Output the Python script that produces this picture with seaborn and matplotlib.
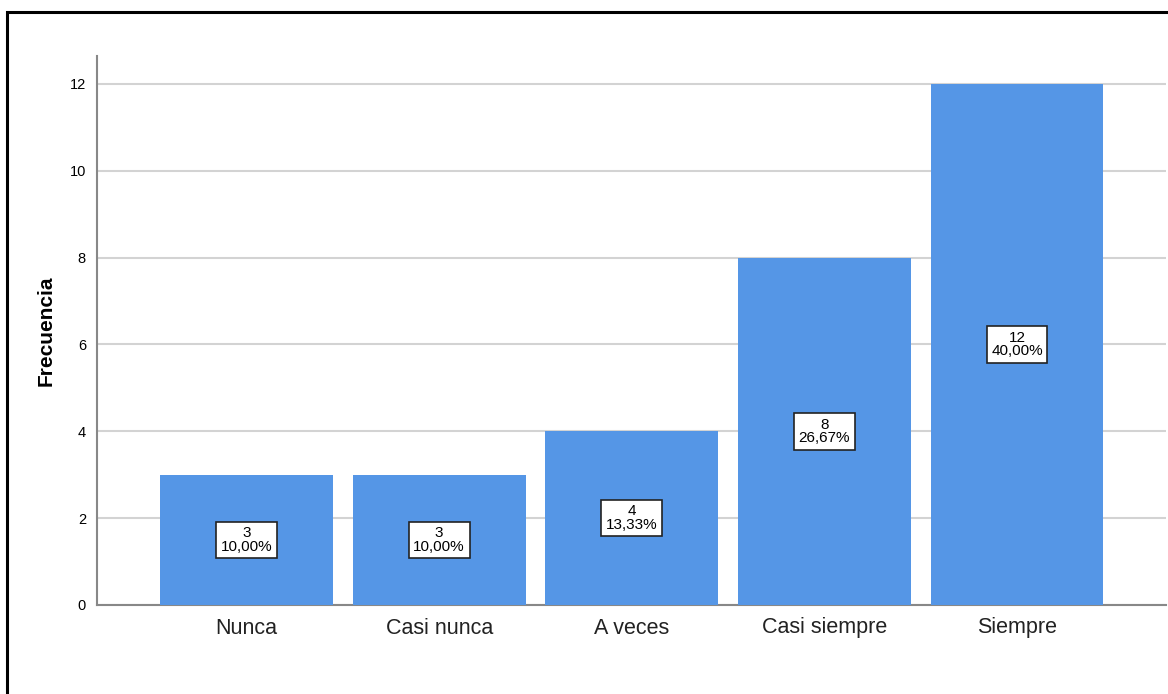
import matplotlib
matplotlib.use("Agg")
import matplotlib.pyplot as plt
import seaborn as sns
import pandas as pd
from matplotlib.patches import Rectangle

categories = ["Nunca", "Casi nunca", "A veces", "Casi siempre", "Siempre"]
frequencies = [3, 3, 4, 8, 12]
yticks = [0, 2, 4, 6, 8, 10, 12]

sns.set_theme(style="white")
plt.rcParams["font.family"] = ["Liberation Sans", "DejaVu Sans"]

df = pd.DataFrame({"cat": categories, "freq": frequencies})

fig = plt.figure(figsize=(11.68, 6.94), dpi=100)
ax = fig.add_axes([97/1168, 1 - 605/694, (1166-97)/1168, (605-56)/694])

sns.barplot(data=df, x="cat", y="freq", color="#5596E6", saturation=1,
            width=0.897, ax=ax, zorder=3, linewidth=0)

ax.set_xlim(-0.776, 4.773)
ax.set_ylim(0, 12.64)
ax.set_yticks(yticks)
ax.yaxis.grid(True, color="#d3d3d3", linewidth=1.5, zorder=0)
ax.set_axisbelow(True)
ax.tick_params(axis="y", labelsize=10.5, length=0, pad=8, colors="black")
ax.tick_params(axis="x", labelsize=15.5, length=0, pad=9, colors="#222222")
ax.set_xlabel("")
ax.set_ylabel("Frecuencia", fontsize=15, fontweight="bold", labelpad=10,
              color="black")

for s in ["top", "right"]:
    ax.spines[s].set_visible(False)
for s in ["left", "bottom"]:
    ax.spines[s].set_color("#888888")
    ax.spines[s].set_linewidth(1.5)

total = sum(frequencies)
for i, v in enumerate(frequencies):
    pct = f"{v / total * 100:.2f}".replace(".", ",") + "%"
    ax.text(i, v / 2, f"{v}\n{pct}", ha="center", va="center", fontsize=11,
            linespacing=0.95, zorder=5, color="black",
            bbox=dict(boxstyle="square,pad=0.3", facecolor="white",
                      edgecolor="#222222", linewidth=1.2))

# outer frame (extends beyond right and bottom edges)
fig.patches.append(Rectangle((7/1168, -0.1), 1.2, 1 - 12/694 + 0.1,
                             transform=fig.transFigure, fill=False,
                             edgecolor="black", linewidth=2.2))

fig.savefig("out.png", dpi=100)
